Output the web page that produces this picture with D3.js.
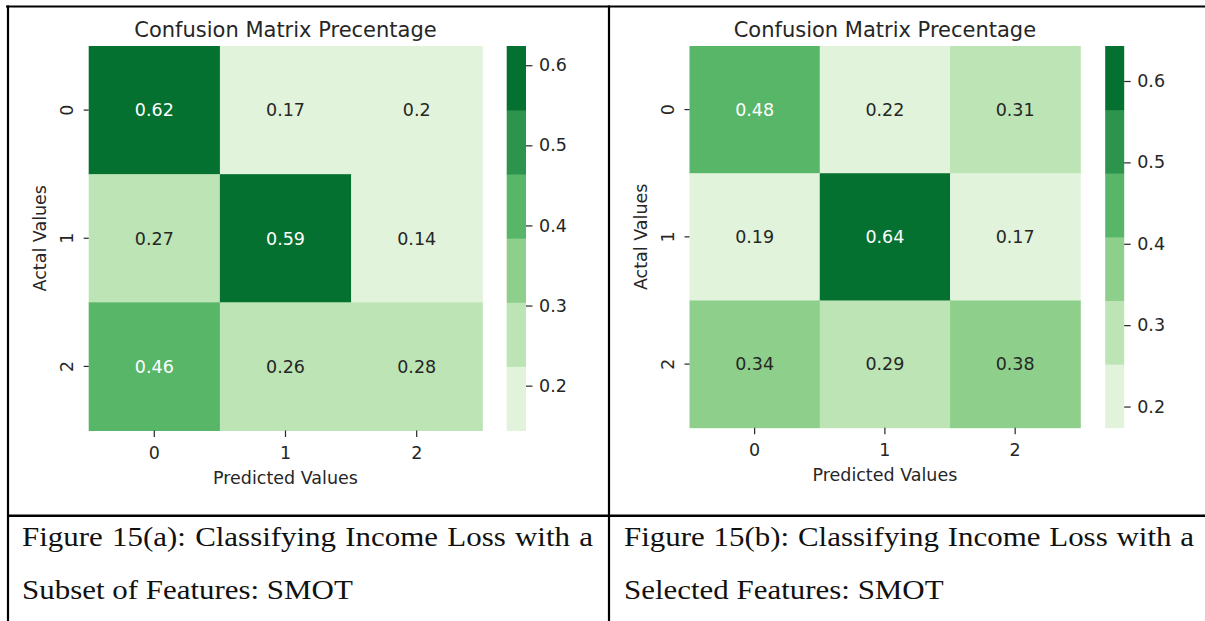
<!DOCTYPE html>
<html>
<head>
<meta charset="utf-8">
<script src="https://cdn.jsdelivr.net/npm/d3@7"></script>
<style>
  body { margin: 0; background: #fff; }
  svg { display: block; }
  .tick text { font-family: "DejaVu Sans", sans-serif; }
</style>
</head>
<body>
<svg id="chart" width="1205" height="621"></svg>
<script>
// data
const classes   = ["0", "1", "2"];
const matrixA   = [[0.62, 0.17, 0.2], [0.27, 0.59, 0.14], [0.46, 0.26, 0.28]];
const matrixB   = [[0.48, 0.22, 0.31], [0.19, 0.64, 0.17], [0.34, 0.29, 0.38]];
const rangeA    = [0.144, 0.624];   // vmin / vmax of the colorbar
const rangeB    = [0.174, 0.643];
const cbTicks   = [0.2, 0.3, 0.4, 0.5, 0.6];
const greens    = ["#e1f3db", "#bce4b5", "#8ed08b", "#57b668", "#2c944c", "#057130"];
const chartTitle = "Confusion Matrix Precentage";
const xTitle    = "Predicted Values";
const yTitle    = "Actal Values";
const captionA  = ["Figure 15(a): Classifying Income Loss with a", "Subset of Features: SMOT"];
const captionB  = ["Figure 15(b): Classifying Income Loss with a", "Selected Features: SMOT"];

const ink = "#262626";
const fs  = 17.5;
const svg = d3.select("#chart");

function luminance(c) {
  let rgb = d3.rgb(c);
  let f = v => { v = v / 255; return v <= 0.03928 ? v / 12.92 : Math.pow((v + 0.055) / 1.055, 2.4); };
  return 0.2126 * f(rgb.r) + 0.7152 * f(rgb.g) + 0.0722 * f(rgb.b);
}

function drawPanel(matrix, range, box) {
  let g = svg.append("g");
  let x = d3.scaleBand().domain(classes).range([box.x0, box.x1]);
  let y = d3.scaleBand().domain(classes).range([box.y0, box.y1]);
  let color = d3.scaleQuantize().domain(range).range(greens);

  let cells = [];
  matrix.forEach((row, i) => row.forEach((v, j) => cells.push({r: classes[i], c: classes[j], v: v})));

  g.selectAll("rect.cell").data(cells).enter().append("rect")
    .attr("class", "cell")
    .attr("x", d => x(d.c)).attr("y", d => y(d.r))
    .attr("width", x.bandwidth() + 0.5).attr("height", y.bandwidth() + 0.5)
    .attr("fill", d => color(d.v));

  g.selectAll("text.annot").data(cells).enter().append("text")
    .attr("class", "annot")
    .attr("x", d => x(d.c) + x.bandwidth() / 2)
    .attr("y", d => y(d.r) + y.bandwidth() / 2 + 6.3)
    .attr("text-anchor", "middle")
    .attr("font-family", "DejaVu Sans")
    .attr("font-size", fs)
    .attr("fill", d => luminance(color(d.v)) > 0.408 ? ink : "#ffffff")
    .text(d => d.v);

  // x axis
  let xa = g.append("g").attr("transform", `translate(0,${box.y1})`)
    .call(d3.axisBottom(x).tickSize(6.5));
  xa.select(".domain").remove();
  xa.selectAll(".tick line").attr("stroke", ink).attr("stroke-width", 1.2);
  xa.selectAll(".tick text").attr("y", 28.5).attr("dy", null)
    .attr("font-size", fs).attr("fill", ink);

  // y axis, labels turned vertical
  let ya = g.append("g").attr("transform", `translate(${box.x0},0)`)
    .call(d3.axisLeft(y).tickSize(5));
  ya.select(".domain").remove();
  ya.selectAll(".tick line").attr("stroke", ink).attr("stroke-width", 1.2);
  ya.selectAll(".tick text").attr("x", null).attr("dy", null)
    .attr("transform", "translate(-15.5,0) rotate(-90)")
    .attr("text-anchor", "middle")
    .attr("font-size", fs).attr("fill", ink);

  // titles
  let cx = (box.x0 + box.x1) / 2;
  g.append("text").attr("x", cx).attr("y", 36.7)
    .attr("text-anchor", "middle").attr("font-family", "DejaVu Sans")
    .attr("font-size", 21).attr("fill", ink).text(chartTitle);
  g.append("text").attr("x", cx).attr("y", box.y1 + 53)
    .attr("text-anchor", "middle").attr("font-family", "DejaVu Sans")
    .attr("font-size", fs).attr("fill", ink).text(xTitle);
  g.append("text")
    .attr("transform", `translate(${box.x0 - 42.5},${(box.y0 + box.y1) / 2}) rotate(-90)`)
    .attr("text-anchor", "middle").attr("font-family", "DejaVu Sans")
    .attr("font-size", fs).attr("fill", ink).text(yTitle);

  // colorbar
  let cb = d3.scaleLinear().domain(range).range([box.y1, box.y0]);
  let step = (range[1] - range[0]) / greens.length;
  g.selectAll("rect.band").data(greens).enter().append("rect")
    .attr("class", "band")
    .attr("x", box.cbx).attr("width", box.cbw)
    .attr("y", (d, i) => cb(range[0] + step * (i + 1)))
    .attr("height", (d, i) => cb(range[0] + step * i) - cb(range[0] + step * (i + 1)) + 0.5)
    .attr("fill", d => d);
  let ca = g.append("g").attr("transform", `translate(${box.cbx + box.cbw},0)`)
    .call(d3.axisRight(cb).tickValues(cbTicks).tickFormat(d3.format(".1f")).tickSize(6.5).tickPadding(6.5));
  ca.select(".domain").remove();
  ca.selectAll(".tick line").attr("stroke", ink).attr("stroke-width", 1.2);
  ca.selectAll(".tick text").attr("font-size", fs).attr("fill", ink);
}

function drawCaption(lines, x0, x1, base) {
  let sx = 1.105;
  lines.forEach((line, k) => {
    let t = svg.append("text")
      .attr("transform", `translate(${x0},${base + k * 52.5}) scale(${sx},1)`)
      .attr("font-family", "Liberation Serif")
      .attr("font-size", 28)
      .attr("fill", "#111")
      .text(line);
    if (k === 0) {
      // justified first line
      let natural = t.node().getComputedTextLength();
      let gaps = line.split(" ").length - 1;
      t.attr("word-spacing", ((x1 - x0) / sx - natural) / gaps);
    }
  });
}

drawPanel(matrixA, rangeA, {x0: 88.7, x1: 482.3, y0: 46, y1: 430.5, cbx: 506.7, cbw: 19.3});
drawPanel(matrixB, rangeB, {x0: 689.5, x1: 1080.3, y0: 46, y1: 427.7, cbx: 1105.2, cbw: 19});

drawCaption(captionA, 22, 593, 546);
drawCaption(captionB, 624, 1194, 546);

// table rules
let rules = [
  [6, 6.5, 1205, 6.5, 2],
  [8, 5.5, 8, 621, 2.2],
  [609, 5.5, 609, 621, 2.2],
  [7, 515.7, 1205, 515.7, 2.6]
];
svg.selectAll("line.rule").data(rules).enter().append("line")
  .attr("class", "rule")
  .attr("x1", d => d[0]).attr("y1", d => d[1])
  .attr("x2", d => d[2]).attr("y2", d => d[3])
  .attr("stroke", "#000").attr("stroke-width", d => d[4]);
</script>
</body>
</html>
